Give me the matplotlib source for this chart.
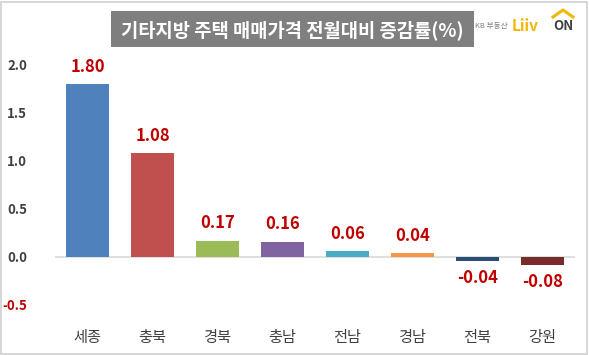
import matplotlib.pyplot as plt
from matplotlib.patches import Rectangle
from matplotlib.lines import Line2D

plt.rcParams['font.family'] = ['Noto Sans CJK KR', 'DejaVu Sans']

regions = ["세종", "충북", "경북", "충남", "전남", "경남", "전북", "강원"]
changes = [1.80, 1.08, 0.17, 0.16, 0.06, 0.04, -0.04, -0.08]
bar_colors = ["#4F81BD", "#C0504D", "#9BBB59", "#8064A2",
              "#4BACC6", "#F79646", "#2C4D75", "#772C2A"]
yticks = [-0.5, 0.0, 0.5, 1.0, 1.5, 2.0]
title = "기타지방 주택 매매가격 전월대비 증감률(%)"

W, H = 589, 355
fig = plt.figure(figsize=(W / 100, H / 100), dpi=100)

# outer border
fig.patches.append(Rectangle((1 / W, 1 / H), 1 - 3 / W, 1 - 3 / H, transform=fig.transFigure,
                             fill=False, edgecolor="#d0d0d0", linewidth=1.2))

ax = fig.add_axes([55 / W, 50 / H, 520 / W, 240 / H])
x = range(len(regions))
ax.bar(x, changes, width=0.66, color=bar_colors)
ax.axhline(0, color="#d9d9d9", linewidth=1.2, zorder=0)

for i, v in enumerate(changes):
    off = 6 if v >= 0 else -6
    ax.annotate(f"{v:.2f}", (i, v), xytext=(0, off), textcoords="offset points",
                ha="center", va="bottom" if v >= 0 else "top",
                color="#C00000", fontsize=12, fontweight="bold")

ax.set_xlim(-0.5, len(regions) - 0.5)
ax.set_ylim(-0.5, 2.0)
ax.set_yticks(yticks)
ax.set_yticklabels([f"{t:.1f}" for t in yticks], fontsize=9.5, fontweight="bold")
for lbl, t in zip(ax.get_yticklabels(), yticks):
    lbl.set_color("#C00000" if t < 0 else "#404040")
ax.set_xticks(list(x))
ax.set_xticklabels(regions, fontsize=11, color="#404040")
ax.tick_params(axis="both", length=0)
ax.tick_params(axis="x", pad=17)
ax.tick_params(axis="y", pad=20)
for s in ax.spines.values():
    s.set_visible(False)

# title box
fig.patches.append(Rectangle((111 / W, 1 - 47 / H), 363 / W, 36 / H, transform=fig.transFigure,
                             facecolor="#7f7f7f", edgecolor="none"))
fig.text(292 / W, 1 - 30 / H, title, ha="center", va="center",
         color="white", fontsize=13.5, fontweight="bold")

# logo
fig.text(475 / W, 1 - 26 / H, "KB 부동산", ha="left", va="center", color="#808080", fontsize=5.5)
fig.text(512 / W, 1 - 26 / H, "Liiv", ha="left", va="center", color="#F2B705",
         fontsize=11, fontweight="heavy")
fig.text(553 / W, 1 - 26 / H, "ON", ha="left", va="center", color="#404040",
         fontsize=9.5, fontweight="bold")
fig.lines.append(Line2D([553 / W, 563 / W, 573 / W], [1 - 17 / H, 1 - 10 / H, 1 - 17 / H],
                        transform=fig.transFigure, color="#F2B705", linewidth=2.2))

fig.savefig("out.png", dpi=100)
